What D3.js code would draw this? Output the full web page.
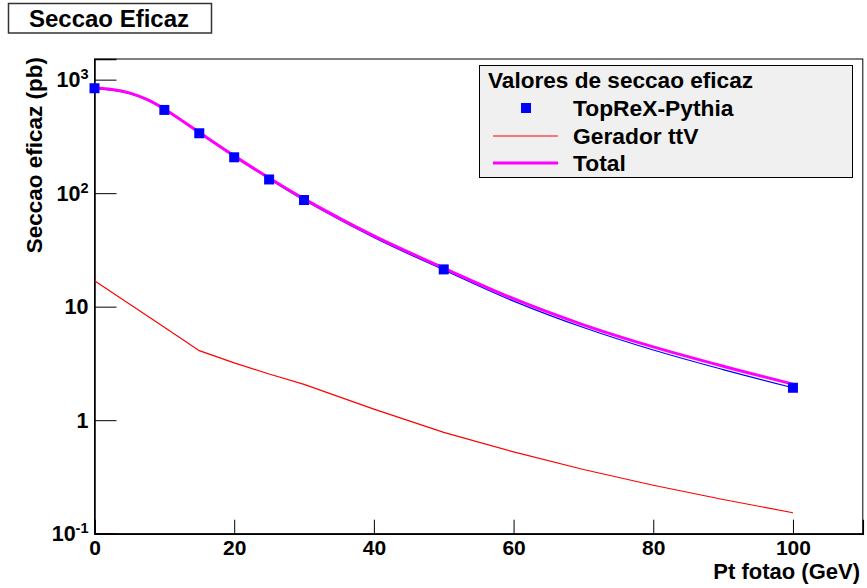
<!DOCTYPE html>
<html><head><meta charset="utf-8">
<script src="https://cdn.jsdelivr.net/npm/d3@7"></script>
<style>
html,body{margin:0;padding:0;background:#fff;}
text{font-family:"Liberation Sans",Arial,Helvetica,sans-serif;font-weight:bold;fill:#000;}
</style></head>
<body>
<svg id="c" width="867" height="588"></svg>
<script>
// ---- data ----
const ptPoints = [0, 10, 15, 20, 25, 30, 50, 100];
const toprexValues = [840, 541, 337, 207, 132, 87, 21.3, 1.93];

const fitPt = [0, 2.5, 5, 7.5, 10, 15, 20, 25, 30, 40, 50, 60, 70, 80, 90, 100];
const fitValues = [828, 806, 753, 662, 546, 339, 210, 133.5, 87, 40.7, 21.1, 11.2, 6.55, 4.15, 2.79, 1.93];

const ttvPt = [0, 10, 15, 20, 25, 30, 40, 50, 60, 70, 80, 90, 100];
const ttvValues = [16.9, 6.6, 4.1, 3.2, 2.55, 2.07, 1.25, 0.78, 0.525, 0.368, 0.267, 0.2, 0.153];

const totalPt = [0, 2.5, 5, 7.5, 10, 15, 20, 25, 30, 40, 50, 60, 70, 80, 90, 100];
const totalValues = [845, 820, 764, 670, 552, 343, 213, 136, 89, 42, 21.9, 11.75, 6.92, 4.42, 2.99, 2.08];

const xMajorTicks = [0, 20, 40, 60, 80, 100];
const yMajorTicks = [0.1, 1, 10, 100, 1000];
const yTickBase = ["10", "1", "10", "10", "10"];
const yTickExp = ["-1", "", "", "2", "3"];

const titleText = "Seccao Eficaz";
const xTitle = "Pt fotao (GeV)";
const yTitle = "Seccao eficaz (pb)";
const legendHeader = "Valores de seccao eficaz";
const legendLabels = ["TopReX-Pythia", "Gerador ttV", "Total"];

// ---- layout ----
const L = 94.5, R = 862.8, T = 59, B = 533.7;
const svg = d3.select("#c");
const x = d3.scaleLinear().domain([0, 110]).range([L, R]);
const y = d3.scaleLog().domain([0.1, 1520]).range([B, T]);

// frame
svg.append("rect").attr("x", L).attr("y", T).attr("width", R - L).attr("height", B - T)
  .attr("fill", "none").attr("stroke", "#000").attr("stroke-width", 1);

// x axis
const xMinor = d3.range(0, 111, 5).filter(v => v % 20 !== 0);
const gx = svg.append("g").attr("transform", `translate(0,${B})`);
gx.call(d3.axisBottom(x).tickValues(xMinor).tickSize(-7).tickFormat(""));
gx.call(d3.axisBottom(x).tickValues(xMajorTicks).tickSize(-14).tickPadding(6).tickFormat(d3.format("d")));
gx.selectAll("text").attr("font-size", 21).style("font-family", "Liberation Sans").style("font-weight", "bold");
gx.select(".domain").attr("stroke-width", 1.5);
gx.selectAll(".tick line").attr("stroke-width", 1);

// y axis
const yMinor = [];
[0.1, 1, 10, 100].forEach(d => { for (let k = 2; k <= 9; k++) yMinor.push(d * k); });
const gy = svg.append("g").attr("transform", `translate(${L},0)`);
gy.call(d3.axisLeft(y).tickValues(yMinor).tickSize(-11).tickFormat(""));
gy.call(d3.axisLeft(y).tickValues(yMajorTicks).tickSize(-22).tickFormat(""));
gy.select(".domain").attr("stroke-width", 1.5);
const yl = svg.append("g");
yMajorTicks.forEach((v, i) => {
  const t = yl.append("text").attr("x", L - 6).attr("y", y(v)).attr("dy", "0.35em")
    .attr("text-anchor", "end").attr("font-size", 21.5);
  t.append("tspan").text(yTickBase[i]);
  if (yTickExp[i]) t.append("tspan").attr("dy", "-0.55em").attr("font-size", 14.5).text(yTickExp[i]);
});

// axis titles
svg.append("text").attr("x", 860).attr("y", 579).attr("text-anchor", "end")
  .attr("font-size", 22).text(xTitle);
svg.append("text").attr("transform", "translate(41.5,57) rotate(-90)").attr("text-anchor", "end")
  .attr("font-size", 22.5).text(yTitle);

// curves
const clipId = "plotclip";
svg.append("clipPath").attr("id", clipId).append("rect")
  .attr("x", L).attr("y", T).attr("width", R - L).attr("height", B - T);
const plot = svg.append("g").attr("clip-path", `url(#${clipId})`);

const smooth = d3.line().x(d => x(d[0])).y(d => y(d[1])).curve(d3.curveCatmullRom.alpha(0.5));
const straight = d3.line().x(d => x(d[0])).y(d => y(d[1]));

plot.append("path").datum(fitPt.map((p, i) => [p, fitValues[i]]))
  .attr("d", smooth).attr("fill", "none").attr("stroke", "#0000ff").attr("stroke-width", 1.2);
plot.append("path").datum(ttvPt.map((p, i) => [p, ttvValues[i]]))
  .attr("d", straight).attr("fill", "none").attr("stroke", "#ff0000").attr("stroke-width", 1.2);
plot.append("path").datum(totalPt.map((p, i) => [p, totalValues[i]]))
  .attr("d", smooth).attr("fill", "none").attr("stroke", "#ff00ff").attr("stroke-width", 3);

const ms = 10;
svg.append("g").selectAll("rect").data(ptPoints.map((p, i) => [p, toprexValues[i]])).join("rect")
  .attr("x", d => x(d[0]) - ms / 2).attr("y", d => y(d[1]) - ms / 2)
  .attr("width", ms).attr("height", ms).attr("fill", "#0000ff");

// legend
const lg = svg.append("g");
lg.append("rect").attr("x", 479.5).attr("y", 65.5).attr("width", 373).attr("height", 112)
  .attr("fill", "#f0f0f0").attr("stroke", "#000").attr("stroke-width", 1);
lg.append("text").attr("x", 488).attr("y", 88).attr("font-size", 22.6).text(legendHeader);
const rowY = [108, 136, 163];
lg.append("rect").attr("x", 526 - ms / 2).attr("y", rowY[0] - ms / 2).attr("width", ms).attr("height", ms).attr("fill", "#0000ff");
lg.append("line").attr("x1", 493).attr("x2", 558).attr("y1", rowY[1]).attr("y2", rowY[1])
  .attr("stroke", "#ff0000").attr("stroke-width", 1.2);
lg.append("line").attr("x1", 493).attr("x2", 558).attr("y1", rowY[2]).attr("y2", rowY[2])
  .attr("stroke", "#ff00ff").attr("stroke-width", 3);
legendLabels.forEach((s, i) => {
  lg.append("text").attr("x", 573).attr("y", rowY[i]).attr("dy", "0.36em").attr("font-size", 22.8).text(s);
});

// title box
svg.append("rect").attr("x", 8.5).attr("y", 3.5).attr("width", 203).attr("height", 29.5)
  .attr("fill", "#fff").attr("stroke", "#333").attr("stroke-width", 1.5);
svg.append("text").attr("x", 109).attr("y", 27).attr("text-anchor", "middle").attr("font-size", 24).text(titleText);
</script>
</body></html>
